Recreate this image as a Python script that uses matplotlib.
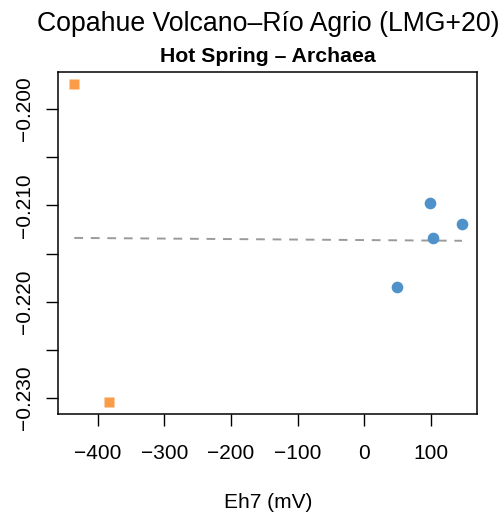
"""
Copahue Volcano - Rio Agrio (LMG+20): Hot Spring - Archaea, valor vs Eh7.
Ejecuta:
    python plot.py
"""

import numpy as np
import matplotlib.pyplot as plt

plt.rcParams["font.family"] = ["Liberation Sans", "DejaVu Sans"]
plt.rcParams["axes.unicode_minus"] = True

# puntos
eh7_orange = [-435.4, -383.8]
val_orange = [-0.19744, -0.23038]
eh7_blue = [98.2, 146.7, 102.7, 48.6]
val_blue = [-0.20972, -0.21196, -0.21341, -0.21850]

x_ticks = [-400, -300, -200, -100, 0, 100]
y_ticks = [-0.200, -0.205, -0.210, -0.215, -0.220, -0.225, -0.230]
y_labels = ["\u22120.200", "", "\u22120.210", "", "\u22120.220", "", "\u22120.230"]

TITLE = "Copahue Volcano\u2013R\u00edo Agrio (LMG+20)"
SUBTITLE = "Hot Spring \u2013 Archaea"
XLABEL = "Eh7 (mV)"

ORANGE = "#FB9D48"
BLUE = "#4F92C9"


def main():
    W, H = 503, 515
    fig = plt.figure(figsize=(W / 100, H / 100), dpi=100)
    ax = fig.add_axes([58.3 / W, 1 - 414.3 / H, (477.3 - 58.3) / W, (414.3 - 71.7) / H])

    # regresion lineal sobre todos los puntos
    x_all = np.array(eh7_orange + eh7_blue)
    y_all = np.array(val_orange + val_blue)
    coeffs = np.polyfit(x_all, y_all, 1)
    xs = np.array([x_all.min(), x_all.max()])
    ax.plot(xs, np.polyval(coeffs, xs), color="#9a9a9a", lw=1.4,
            linestyle=(0, (4.5, 4)), zorder=1)

    ax.plot(eh7_orange, val_orange, linestyle="none", marker="s", ms=7.8,
            color=ORANGE, mec="none", zorder=3)
    ax.plot(eh7_blue, val_blue, linestyle="none", marker="o", ms=8.4,
            color=BLUE, mec="none", zorder=3)

    ax.set_xlim(-459.4, 169.7)
    ax.set_ylim(-0.23169, -0.19613)
    ax.set_xticks(x_ticks)
    ax.set_xticklabels([str(v).replace("-", "\u2212") for v in x_ticks])
    ax.set_yticks(y_ticks)
    ax.set_yticklabels(y_labels, rotation=90, va="center")

    ax.tick_params(axis="both", direction="out", length=8.6, width=1.0,
                   labelsize=15, color="black")
    ax.tick_params(axis="x", pad=13)
    ax.tick_params(axis="y", pad=9)
    for sp in ax.spines.values():
        sp.set_linewidth(1.1)
        sp.set_color("black")

    xc = (58.3 + 477.3) / 2 / W
    fig.text(xc, 1 - 31 / H, TITLE, ha="center", va="baseline", fontsize=19.2)
    fig.text(xc, 1 - 62 / H, SUBTITLE, ha="center", va="baseline",
             fontsize=15.3, fontweight="bold")
    fig.text(xc, 1 - 503 / H, XLABEL, ha="center", va="center", fontsize=15)

    fig.savefig("out.png", dpi=100)
    plt.close(fig)


if __name__ == "__main__":
    main()
